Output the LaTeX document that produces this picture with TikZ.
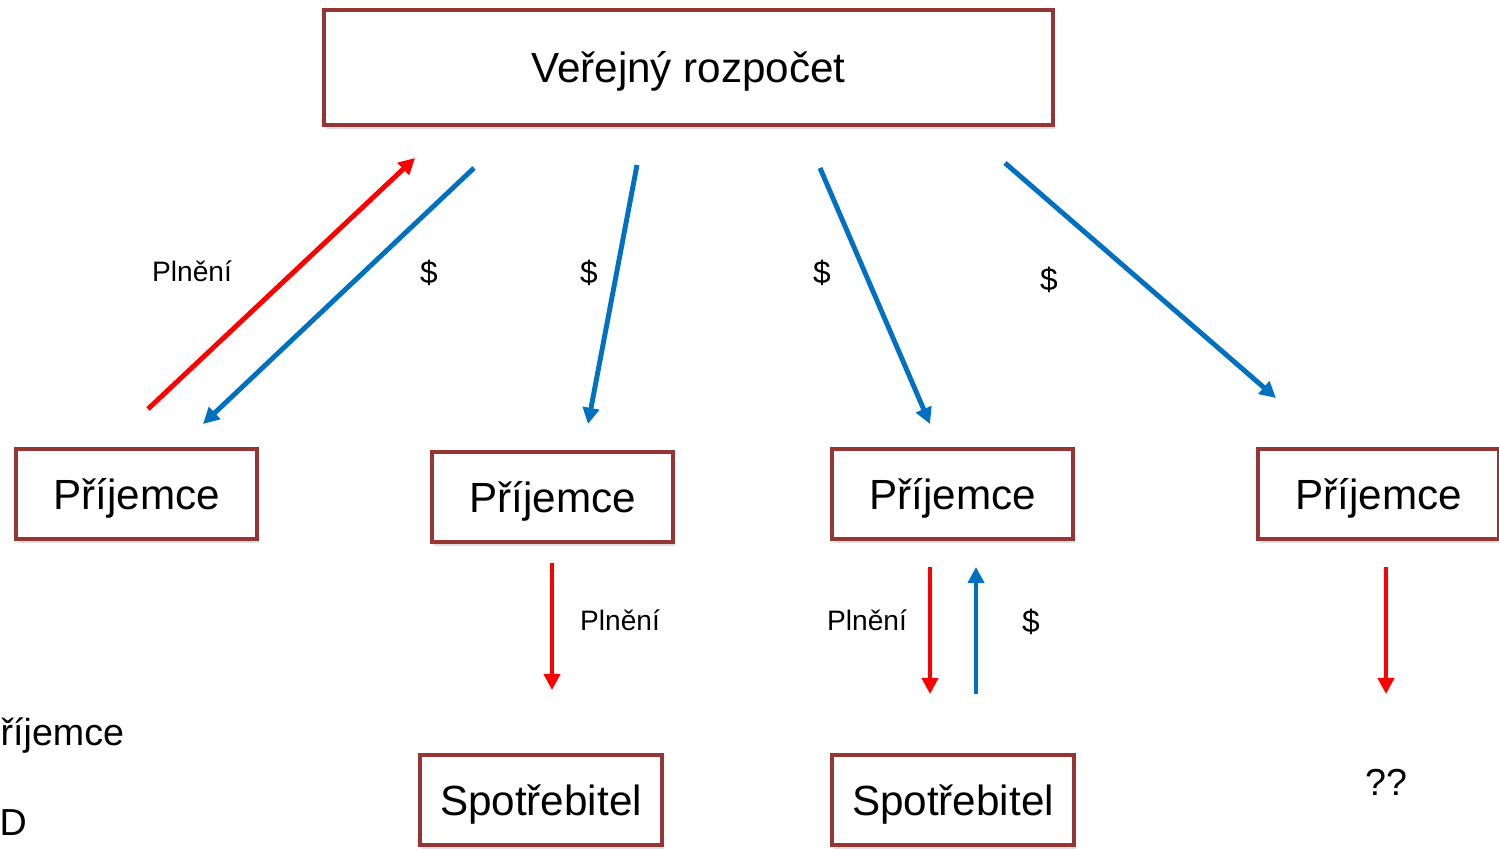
\documentclass[tikz,border=0pt]{standalone}
\usepackage{fontspec}
\setmainfont{Liberation Sans}
\usetikzlibrary{arrows.meta,shadows}
\definecolor{boxred}{HTML}{963634}
\definecolor{arrred}{HTML}{FF0000}
\definecolor{arrblue}{HTML}{0070C0}
\begin{document}
\begin{tikzpicture}[x=0.01cm,y=-0.01cm,
  box/.style={draw=boxred,line width=1.2pt,fill=white,inner sep=0pt,
    text height=11pt,text depth=2.4pt,
    drop shadow={shadow xshift=0.6pt,shadow yshift=-1.2pt,opacity=0.25},
    font=\fontsize{12}{14}\selectfont},
  lbl/.style={inner sep=0pt,font=\fontsize{8}{10}\selectfont},
  dol/.style={inner sep=0pt,font=\fontsize{9}{11}\selectfont},
  redarr/.style={draw=arrred,line width=1.4pt,-{Triangle[length=4.6pt,width=4.6pt]}},
  bluearr/.style={draw=arrblue,line width=1.4pt,-{Triangle[length=4.6pt,width=4.6pt]}}]
\useasboundingbox (0,0) rectangle (1499,849);
% boxes
\node[box,minimum width=7.29cm,minimum height=1.15cm] (rozp) at (688.5,67.5) {Veřejný rozpočet};
\node[box,minimum width=2.41cm,minimum height=0.9cm] (p1) at (136.5,494) {Příjemce};
\node[box,minimum width=2.41cm,minimum height=0.9cm] (p2) at (552.5,497) {Příjemce};
\node[box,minimum width=2.41cm,minimum height=0.9cm] (p3) at (952.5,494) {Příjemce};
\node[box,minimum width=2.41cm,minimum height=0.9cm] (p4) at (1378.5,494) {Příjemce};
\node[box,minimum width=2.42cm,minimum height=0.9cm] (s1) at (541,800) {Spotřebitel};
\node[box,minimum width=2.42cm,minimum height=0.9cm] (s2) at (953,800) {Spotřebitel};
% arrow end points
\coordinate (a1s) at (148,409); \coordinate (a1e) at (415,158);
\coordinate (a2s) at (474,168); \coordinate (a2e) at (203,424);
\coordinate (a3s) at (637,165); \coordinate (a3e) at (588,424);
\coordinate (a4s) at (820,168); \coordinate (a4e) at (930,424);
\coordinate (a5s) at (1005,163); \coordinate (a5e) at (1276,398);
\coordinate (a6s) at (552,563); \coordinate (a6e) at (552,690);
\coordinate (a7s) at (930,567); \coordinate (a7e) at (930,694);
\coordinate (a8s) at (976,694); \coordinate (a8e) at (976,567);
\coordinate (a9s) at (1386,567); \coordinate (a9e) at (1386,694);
% arrows
\draw[redarr] (a1s) -- (a1e);
\draw[bluearr] (a2s) -- (a2e);
\draw[bluearr] (a3s) -- (a3e);
\draw[bluearr] (a4s) -- (a4e);
\draw[bluearr] (a5s) -- (a5e);
\draw[redarr] (a6s) -- (a6e);
\draw[redarr] (a7s) -- (a7e);
\draw[bluearr] (a8s) -- (a8e);
\draw[redarr] (a9s) -- (a9e);
% labels
\node[lbl] (l1) at (192,271) {Plnění};
\node[dol] (d1) at (429,273) {\$};
\node[dol] (d2) at (589,273) {\$};
\node[dol] (d3) at (822,273) {\$};
\node[dol] (d4) at (1049,280) {\$};
\node[lbl] (l2) at (620,620) {Plnění};
\node[lbl] (l3) at (867,620) {Plnění};
\node[dol] (d5) at (1031,622) {\$};
\node[inner sep=0pt,font=\fontsize{10.7}{12}\selectfont] (qq) at (1386,782) {??};
\node[inner sep=0pt,anchor=west,font=\fontsize{10.7}{12}\selectfont] (lp) at (0,736) {říjemce};
\node[inner sep=0pt,anchor=west,font=\fontsize{10.7}{12}\selectfont] (ld) at (-1,823) {D};
\end{tikzpicture}
\end{document}
